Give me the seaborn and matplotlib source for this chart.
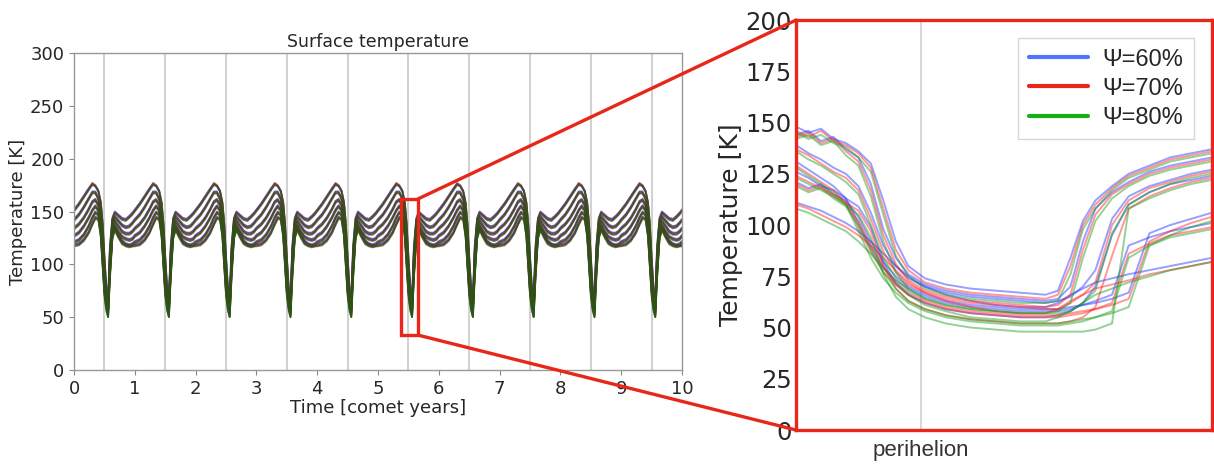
import numpy as np
import pandas as pd
import matplotlib
matplotlib.use("Agg")
import matplotlib.pyplot as plt
import seaborn as sns
from matplotlib.patches import Rectangle, ConnectionPatch
from matplotlib.lines import Line2D

# ---------------- data ----------------
PSI_LABELS = ["Ψ=60%", "Ψ=70%", "Ψ=80%"]
N_YEARS = 10
PERIHELION_PHASE = 0.5          # perihelion within each comet year (left panel)

# one comet year of surface temperature, phase within the year
PHASE = [0.00, 0.08, 0.16, 0.24, 0.30, 0.35, 0.40, 0.44, 0.47, 0.50,
         0.53, 0.56, 0.59, 0.63, 0.67, 0.73, 0.79, 0.85, 0.91, 0.96]

L60_1 = [152, 158, 165, 172, 176, 174, 169, 158, 138, 106, 80, 68, 118, 144, 150, 147, 144, 143, 146, 149]
L60_2 = [143, 148, 155, 163, 169, 169, 163, 150, 128, 98, 74, 66, 112, 140, 146, 142, 138, 136, 137, 140]
L60_3 = [135, 139, 145, 153, 160, 162, 157, 143, 120, 90, 70, 65, 106, 136, 142, 137, 132, 130, 130, 132]
L60_4 = [128, 131, 137, 145, 152, 156, 152, 137, 112, 84, 67, 64, 100, 132, 138, 132, 127, 125, 124, 125]
L60_5 = [122, 124, 129, 137, 145, 150, 148, 132, 105, 78, 64, 63, 95, 128, 136, 129, 123, 120, 119, 120]
L60_6 = [119, 120, 124, 131, 139, 145, 144, 128, 100, 74, 62, 62, 92, 126, 134, 127, 121, 119, 118, 118]

L70_1 = [151, 157, 164, 171, 177, 175, 170, 159, 139, 107, 78, 62, 115, 143, 149, 146, 143, 142, 145, 148]
L70_2 = [142, 147, 154, 162, 168, 168, 162, 149, 127, 96, 71, 60, 109, 139, 145, 141, 137, 135, 136, 139]
L70_3 = [134, 138, 144, 152, 159, 161, 156, 142, 119, 88, 67, 58, 103, 135, 141, 136, 131, 129, 129, 131]
L70_4 = [127, 130, 136, 144, 151, 155, 151, 136, 111, 82, 64, 57, 97, 131, 137, 131, 126, 124, 123, 124]
L70_5 = [121, 123, 128, 136, 144, 149, 147, 131, 104, 76, 61, 56, 92, 127, 135, 128, 122, 119, 118, 119]
L70_6 = [118, 119, 123, 130, 138, 144, 143, 127, 99, 72, 59, 56, 89, 125, 133, 126, 120, 118, 117, 117]

L80_1 = [150, 156, 163, 170, 175, 174, 169, 158, 138, 105, 75, 56, 112, 142, 148, 145, 142, 141, 144, 147]
L80_2 = [141, 146, 153, 161, 167, 167, 161, 148, 126, 94, 68, 54, 106, 138, 144, 140, 136, 134, 135, 138]
L80_3 = [133, 137, 143, 151, 158, 160, 155, 141, 118, 86, 64, 52, 100, 134, 140, 135, 130, 128, 128, 130]
L80_4 = [126, 129, 135, 143, 150, 154, 150, 135, 110, 80, 61, 51, 94, 130, 136, 130, 125, 123, 122, 123]
L80_5 = [120, 122, 127, 135, 143, 148, 146, 130, 103, 74, 58, 50, 89, 126, 134, 127, 121, 118, 117, 118]
L80_6 = [117, 118, 122, 129, 137, 143, 142, 126, 98, 70, 56, 50, 86, 124, 132, 125, 119, 117, 116, 117]

# zoom around perihelion (x = fraction of the zoom window)
ZOOM_X = [0.00, 0.03, 0.06, 0.09, 0.12, 0.15, 0.18, 0.21, 0.24, 0.27, 0.31, 0.36, 0.42,
          0.48, 0.54, 0.60, 0.63, 0.66, 0.69, 0.72, 0.76, 0.80, 0.85, 0.90, 0.95, 1.00]
ZOOM_PERIHELION = 0.30

Z60_A = [148, 145, 147, 142, 140, 136, 130, 112, 92, 80, 74, 71, 69, 68, 67, 66, 68, 84, 102, 112, 119, 125, 129, 133, 135, 137]
Z60_B = [139, 135, 132, 128, 125, 119, 106, 90, 80, 74, 70, 67, 65, 64, 63, 62, 63, 65, 70, 78, 103, 114, 119, 122, 125, 127]
Z60_C = [131, 127, 123, 119, 113, 101, 89, 79, 73, 69, 65, 62, 60, 59, 58, 58, 58, 59, 61, 63, 66, 90, 94, 97, 99, 101]
Z60_D = [111, 109, 107, 104, 101, 97, 92, 86, 80, 75, 70, 66, 63, 61, 60, 60, 62, 66, 69, 72, 74, 76, 78, 80, 82, 84]
Z60_E = [126, 123, 119, 117, 113, 109, 99, 82, 71, 66, 62, 59, 57, 56, 55, 55, 56, 58, 62, 70, 95, 110, 116, 120, 122, 124]
Z60_F = [144, 146, 141, 143, 137, 133, 120, 98, 84, 76, 71, 68, 66, 65, 64, 63, 64, 70, 92, 108, 116, 121, 126, 129, 131, 133]
Z60_G = [121, 118, 120, 115, 112, 104, 92, 82, 75, 70, 66, 63, 61, 60, 59, 59, 59, 60, 61, 62, 64, 67, 96, 100, 103, 106]

Z70_A = [146, 143, 146, 141, 139, 135, 128, 108, 88, 78, 72, 69, 67, 66, 65, 64, 66, 80, 100, 110, 118, 124, 128, 132, 134, 136]
Z70_B = [137, 134, 130, 126, 123, 117, 103, 87, 77, 71, 67, 64, 62, 61, 60, 59, 59, 62, 66, 72, 100, 112, 118, 121, 124, 126]
Z70_C = [129, 125, 121, 117, 111, 99, 87, 77, 71, 66, 62, 59, 57, 56, 55, 55, 55, 56, 57, 59, 62, 86, 91, 95, 97, 99]
Z70_D = [110, 108, 105, 102, 99, 95, 90, 84, 78, 72, 67, 63, 60, 58, 57, 57, 59, 63, 66, 69, 71, 73, 76, 78, 80, 82]
Z70_E = [124, 121, 118, 115, 111, 107, 97, 80, 69, 63, 59, 56, 54, 53, 52, 52, 52, 53, 55, 60, 85, 108, 114, 118, 121, 123]
Z70_F = [143, 145, 140, 142, 136, 131, 117, 95, 81, 73, 68, 65, 63, 62, 61, 60, 61, 66, 88, 105, 115, 120, 125, 128, 130, 132]
Z70_G = [120, 117, 119, 114, 110, 102, 90, 80, 72, 67, 63, 60, 58, 57, 56, 56, 56, 57, 58, 59, 61, 64, 92, 97, 101, 104]

Z80_A = [145, 142, 144, 140, 138, 133, 126, 105, 85, 75, 69, 66, 64, 63, 62, 62, 63, 76, 98, 108, 117, 123, 127, 131, 133, 135]
Z80_B = [136, 132, 129, 125, 121, 115, 100, 84, 74, 68, 64, 61, 59, 58, 57, 57, 57, 58, 62, 68, 96, 110, 116, 120, 123, 125]
Z80_C = [128, 124, 120, 116, 110, 97, 84, 74, 67, 62, 58, 55, 53, 52, 51, 51, 51, 52, 53, 55, 58, 84, 90, 94, 96, 98]
Z80_D = [108, 106, 103, 100, 97, 92, 86, 79, 72, 66, 61, 58, 55, 54, 53, 53, 55, 58, 62, 66, 69, 72, 75, 78, 80, 82]
Z80_E = [123, 120, 117, 114, 110, 105, 94, 76, 65, 59, 55, 52, 50, 49, 48, 48, 48, 48, 48, 49, 52, 108, 113, 117, 120, 122]
Z80_F = [142, 144, 139, 141, 134, 129, 114, 92, 77, 69, 64, 61, 59, 58, 57, 57, 58, 62, 84, 102, 113, 119, 124, 127, 129, 131]
Z80_G = [119, 116, 118, 113, 109, 100, 88, 77, 69, 63, 59, 56, 54, 53, 52, 52, 52, 53, 54, 55, 57, 60, 90, 95, 99, 102]

LEFT_CURVES = {
    "Ψ=60%": [L60_1, L60_2, L60_3, L60_4, L60_5, L60_6],
    "Ψ=70%": [L70_1, L70_2, L70_3, L70_4, L70_5, L70_6],
    "Ψ=80%": [L80_1, L80_2, L80_3, L80_4, L80_5, L80_6],
}
ZOOM_CURVES = {
    "Ψ=60%": [Z60_A, Z60_B, Z60_C, Z60_D, Z60_E, Z60_F, Z60_G],
    "Ψ=70%": [Z70_A, Z70_B, Z70_C, Z70_D, Z70_E, Z70_F, Z70_G],
    "Ψ=80%": [Z80_A, Z80_B, Z80_C, Z80_D, Z80_E, Z80_F, Z80_G],
}
ZOOM_BOX_T = [5.38, 5.66]
ZOOM_BOX_T_K = [33, 162]

# ---------------- tables ----------------
rows = []
for psi, curves in LEFT_CURVES.items():
    for k, vals in enumerate(curves):
        for c in range(N_YEARS):
            for ph, v in zip(PHASE, vals):
                rows.append((c + ph, v, psi, f"{psi}-{k}"))
        rows.append((N_YEARS, vals[0], psi, f"{psi}-{k}"))
df_left = pd.DataFrame(rows, columns=["t", "T", "psi", "curve"])

rows = []
for psi, curves in ZOOM_CURVES.items():
    for k, vals in enumerate(curves):
        for x, v in zip(ZOOM_X, vals):
            rows.append((x, v, psi, f"{psi}-{k}"))
df_zoom = pd.DataFrame(rows, columns=["x", "T", "psi", "curve"])

# ---------------- style ----------------
sns.set_style("white")
plt.rcParams["font.family"] = ["DejaVu Sans"]

LINE_COLORS = {"Ψ=60%": "#1a2cff", "Ψ=70%": "#ff1a1a", "Ψ=80%": "#139a13"}
LEFT_COLORS = {"Ψ=60%": "#3030a8", "Ψ=70%": "#8a2030", "Ψ=80%": "#2c5414"}
LEGEND_COLORS = {"Ψ=60%": "#4f74ff", "Ψ=70%": "#e8261a", "Ψ=80%": "#16b016"}
FRAME_RED = "#e8261a"

fig = plt.figure(figsize=(12.14, 4.67), dpi=100)
ax1 = fig.add_axes([0.061, 0.2077, 0.5008, 0.6788])
ax2 = fig.add_axes([0.6557, 0.0792, 0.3425, 0.8778])

# ---------------- left panel ----------------
for c in range(N_YEARS):
    ax1.axvline(c + PERIHELION_PHASE, color="#d2d2d2", lw=1.5, zorder=0)
sns.lineplot(data=df_left, x="t", y="T", hue="psi", units="curve", estimator=None,
             palette=LEFT_COLORS, alpha=0.75, linewidth=1.3, legend=False, ax=ax1)
ax1.set_xlim(0, 10)
ax1.set_ylim(0, 300)
ax1.set_xticks(range(0, 11))
ax1.set_yticks(range(0, 301, 50))
ax1.tick_params(labelsize=13, length=3.5, color="#888888", bottom=True, left=True)
ax1.set_xlabel("Time [comet years]", fontsize=13, labelpad=1)
ax1.set_ylabel("Temperature [K]", fontsize=13, labelpad=2)
ax1.set_title("Surface temperature", fontsize=12.5, pad=4)
for s in ax1.spines.values():
    s.set_color("#999999")
    s.set_linewidth(1.0)

ax1.add_patch(Rectangle((ZOOM_BOX_T[0], ZOOM_BOX_T_K[0]),
                        ZOOM_BOX_T[1] - ZOOM_BOX_T[0], ZOOM_BOX_T_K[1] - ZOOM_BOX_T_K[0],
                        fill=False, edgecolor=FRAME_RED, lw=2.4, zorder=5))

# ---------------- right panel ----------------
ax2.axvline(ZOOM_PERIHELION, color="#d8d8d8", lw=1.5, zorder=0)
sns.lineplot(data=df_zoom, x="x", y="T", hue="psi", units="curve", estimator=None,
             palette=LINE_COLORS, alpha=0.45, linewidth=1.4, legend=False, ax=ax2)
ax2.set_xlim(0, 1)
ax2.set_ylim(0, 200)
ax2.set_yticks(range(0, 201, 25))
ax2.set_xticks([ZOOM_PERIHELION])
ax2.set_xticklabels(["perihelion"], fontsize=16, color="#333333",
                    family=["Liberation Sans", "DejaVu Sans"])
ax2.tick_params(axis="y", labelsize=17.5, length=0, pad=3)
ax2.tick_params(axis="x", length=0, pad=7)
ax2.set_xlabel("")
ax2.set_ylabel("Temperature [K]", fontsize=18, labelpad=2)
for s in ax2.spines.values():
    s.set_color(FRAME_RED)
    s.set_linewidth(2.4)

handles = [Line2D([0], [0], color=LEGEND_COLORS[p], lw=3) for p in PSI_LABELS]
leg = ax2.legend(handles, PSI_LABELS, loc="upper right",
                 prop={"family": ["Liberation Sans", "DejaVu Sans"], "size": 17},
                 frameon=True, fancybox=False, handlelength=2.5, handletextpad=0.6,
                 borderpad=0.45, labelspacing=0.3, bbox_to_anchor=(0.985, 0.985))
leg.get_frame().set_edgecolor("#cccccc")
leg.get_frame().set_linewidth(1.0)

# ---------------- connectors ----------------
for yk, ya in [(ZOOM_BOX_T_K[1], 1.0), (ZOOM_BOX_T_K[0], 0.0)]:
    con = ConnectionPatch(xyA=(ZOOM_BOX_T[1], yk), coordsA=ax1.transData,
                          xyB=(0.0, ya), coordsB=ax2.transAxes,
                          color=FRAME_RED, lw=2.4)
    fig.add_artist(con)

fig.savefig("out.png", dpi=100)
